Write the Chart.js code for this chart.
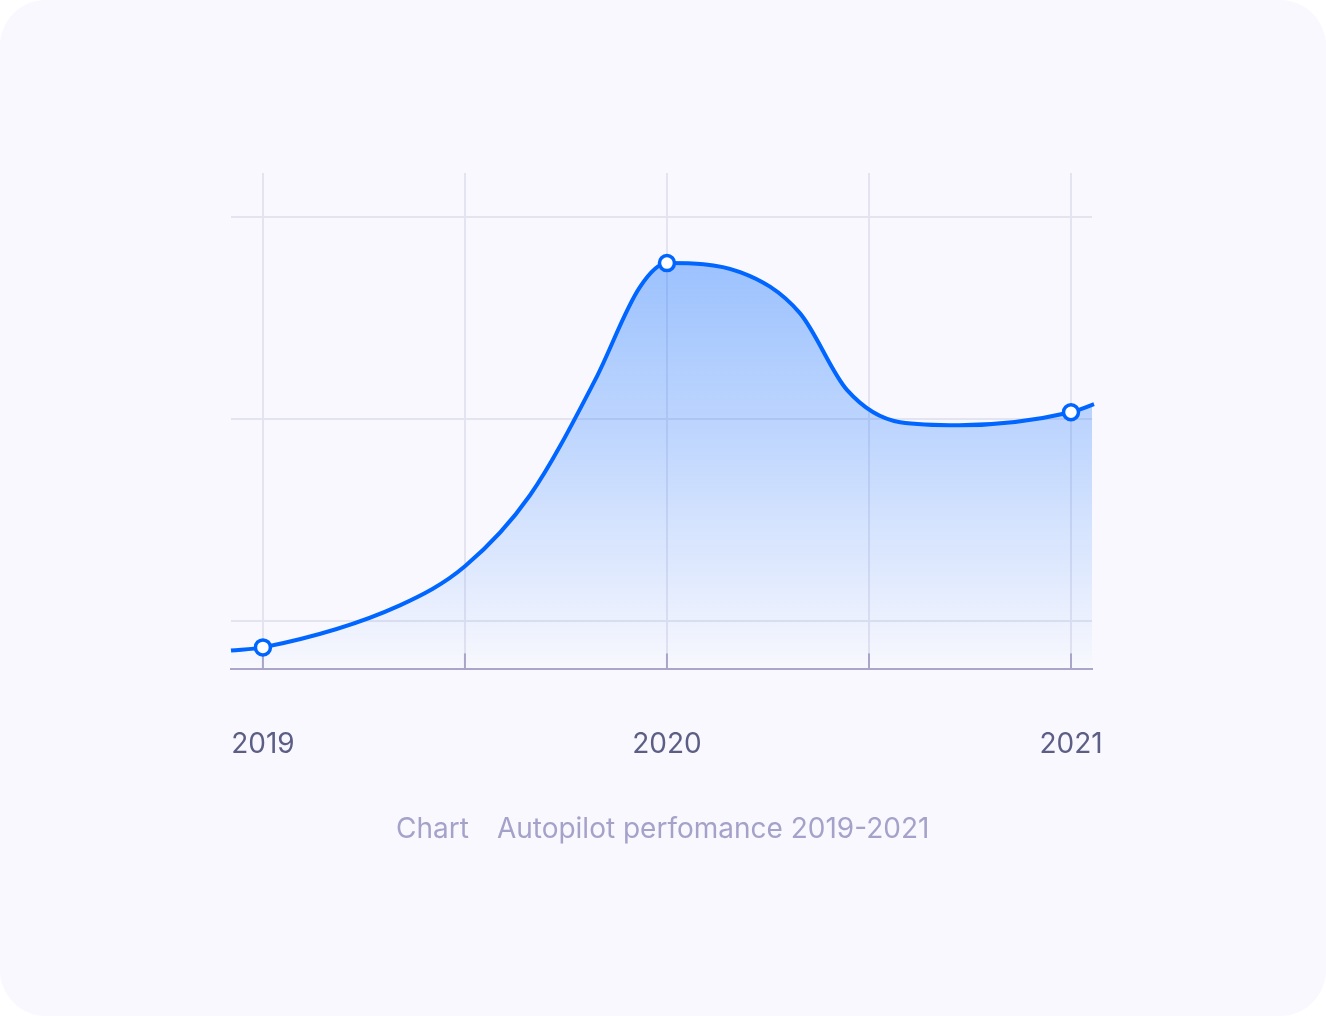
<!DOCTYPE html>
<html>
<head>
<meta charset="utf-8">
<script src="https://cdn.jsdelivr.net/npm/chart.js@4/dist/chart.umd.min.js"></script>
<style>
  html, body { margin: 0; padding: 0; background: #ffffff; }
  #card { position: absolute; left: 0; top: 0; width: 1326px; height: 1016px; border-radius: 46px; background: #f8f8fe; overflow: hidden; }
  #wrap { position: absolute; left: 0; top: 0; width: 1326px; height: 1016px; }
  #caption { position: absolute; left: 396px; top: 811px; font-family: Inter, "Noto Sans", sans-serif; font-size: 28px; line-height: 34px; color: #a5a2ca; white-space: nowrap; }
  #caption span.gap { display: inline-block; width: 28px; }
</style>
</head>
<body>
<div id="card">
  <div id="wrap"><canvas id="c"></canvas></div>
  <div id="caption"><span>Chart</span><span class="gap"></span><span>Autopilot perfomance 2019-2021</span></div>
</div>
<script>
// ---- data ----
const yearLabels = ["2019", "2020", "2021"];
const yearTicks = [2019, 2019.5, 2020, 2020.5, 2021];
const markedYears = [2019, 2020, 2021];
const xs = [2018.921, 2019, 2019.339, 2019.5, 2019.661, 2019.822, 2019.933, 2020, 2020.181, 2020.329, 2020.446, 2020.577, 2020.723, 2021, 2021.057];
const performance = [-7.18, -6.44, 3.96, 13.61, 31.19, 59.65, 82.67, 88.61, 86.39, 76.24, 57.18, 49.26, 48.51, 51.73, 53.71];
const yGridValues = [0, 50, 100];

const points = xs.map((x, i) => ({ x: x, y: performance[i] }));
const radii = xs.map(x => markedYears.includes(x) ? 7.5 : 0);

const LINE = '#0066ff';

const innerTicks = {
  id: 'innerTicks',
  beforeDatasetsDraw(chart) {
    const ctx = chart.ctx, xs_ = chart.scales.x, a = chart.chartArea;
    ctx.save();
    ctx.strokeStyle = '#a9a6c9';
    ctx.lineWidth = 2;
    yearTicks.forEach(v => {
      const px = xs_.getPixelForValue(v);
      ctx.beginPath();
      ctx.moveTo(px, a.bottom - 16);
      ctx.lineTo(px, a.bottom);
      ctx.stroke();
    });
    ctx.restore();
  }
};

const ctx = document.getElementById('c').getContext('2d');
new Chart(ctx, {
  type: 'line',
  data: {
    datasets: [{
      data: points,
      borderColor: LINE,
      borderWidth: 4,
      cubicInterpolationMode: 'monotone',
      fill: 'start',
      clip: 8,
      backgroundColor: (c) => {
        const ch = c.chart, a = ch.chartArea;
        if (!a) return 'rgba(0,102,255,0.2)';
        const g = ch.ctx.createLinearGradient(0, 263, 0, a.bottom);
        g.addColorStop(0, 'rgba(0,102,255,0.37)');
        g.addColorStop(0.45, 'rgba(0,102,255,0.22)');
        g.addColorStop(1, 'rgba(0,102,255,0.0)');
        return g;
      },
      pointRadius: radii,
      pointHoverRadius: radii,
      pointBackgroundColor: '#ffffff',
      pointBorderColor: LINE,
      pointBorderWidth: 3.5
    }]
  },
  options: {
    responsive: true,
    maintainAspectRatio: false,
    animation: false,
    layout: { padding: { left: 231, right: 234, top: 173, bottom: 197 } },
    plugins: { legend: { display: false }, tooltip: { enabled: false }, title: { display: false } },
    scales: {
      x: {
        type: 'linear',
        min: 2018.921,
        max: 2021.052,
        afterBuildTicks: (s) => { s.ticks = yearTicks.map(v => ({ value: v })); },
        grid: { color: '#e4e3f0', lineWidth: 2, drawTicks: false },
        border: { display: true, color: '#a9a6c9', width: 2 },
        ticks: {
          padding: 58,
          autoSkip: false,
          maxRotation: 0,
          color: '#5c5e86',
          font: { family: 'Inter', size: 28 },
          callback: (v) => {
            const i = markedYears.indexOf(v);
            return i >= 0 ? yearLabels[i] : '';
          }
        }
      },
      y: {
        min: -11.88,
        max: 110.89,
        afterBuildTicks: (s) => { s.ticks = yGridValues.map(v => ({ value: v })); },
        grid: { color: '#e4e3f0', lineWidth: 2, drawTicks: false },
        border: { display: false },
        ticks: { display: false }
      }
    }
  },
  plugins: [innerTicks]
});
</script>
</body>
</html>
